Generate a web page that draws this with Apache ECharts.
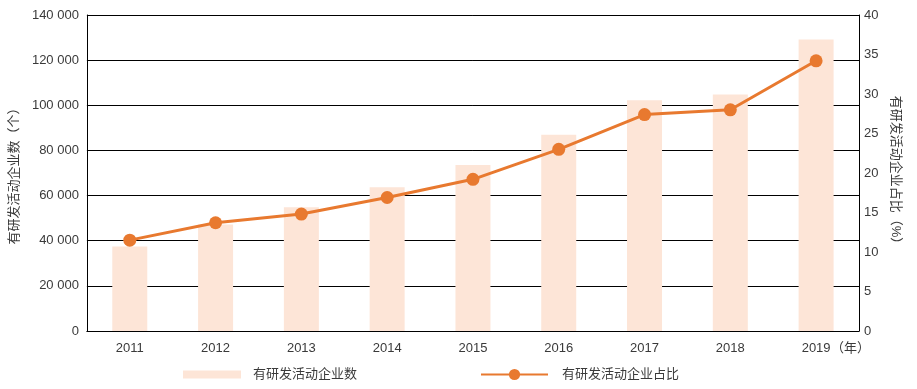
<!DOCTYPE html>
<html><head><meta charset="utf-8">
<script src="https://cdn.jsdelivr.net/npm/echarts@6/dist/echarts.min.js"></script>
<style>html,body{margin:0;padding:0;background:#fff}#c{width:917px;height:389px}</style>
</head><body><div id="c"></div>
<script>
const years = ['2011','2012','2013','2014','2015','2016','2017','2018','2019'];
const enterpriseCount = [37467, 47204, 54832, 63676, 73570, 86891, 102218, 104820, 129198];
const enterpriseShare = [11.5, 13.7, 14.8, 16.9, 19.2, 23.0, 27.4, 28.0, 34.2];
const leftTicks = {min: 0, max: 140000, interval: 20000};
const rightTicks = {min: 0, max: 40, interval: 5};
const barName = '有研发活动企业数';
const lineName = '有研发活动企业占比';

const font = '"Liberation Sans", "Noto Sans CJK SC", sans-serif';
const txt = '#3a3a3a';
const chart = echarts.init(document.getElementById('c'));
chart.setOption({
  animation: false,
  textStyle: {fontFamily: font},
  grid: {left: 86, right: 58, top: 15, bottom: 58},
  legend: [
    {data: [barName], left: 178, top: 363, itemWidth: 58, itemHeight: 8, icon: 'rect',
     textStyle: {fontSize: 13, color: txt, fontFamily: font, padding: [0,0,0,7]}},
    {data: [lineName], left: 475, top: 363, itemWidth: 67, itemHeight: 14,
     textStyle: {fontSize: 13, color: txt, fontFamily: font, padding: [0,0,0,9]}}
  ],
  xAxis: {
    type: 'category', data: years,
    name: '（年）', nameLocation: 'end', nameGap: -28, nameMoveOverlap: false,
    nameTextStyle: {fontSize: 13, color: txt, fontFamily: font, align: 'left',
                    verticalAlign: 'top', lineHeight: 34},
    axisLine: {lineStyle: {color: '#000', width: 1}},
    axisTick: {show: false},
    axisLabel: {fontSize: 13, color: txt, margin: 11}
  },
  yAxis: [
    {type: 'value', min: leftTicks.min, max: leftTicks.max, interval: leftTicks.interval,
     name: '有研发活动企业数（个）', nameLocation: 'middle', nameGap: 58, nameRotate: 90,
     nameTextStyle: {fontSize: 13, color: txt, fontFamily: font},
     axisLine: {show: true, lineStyle: {color: '#000'}}, axisTick: {show: false},
     splitLine: {lineStyle: {color: '#000', width: 1}},
     axisLabel: {fontSize: 13, color: txt, margin: 8,
       formatter: v => String(v).replace(/\B(?=(\d{3})+(?!\d))/g, ' ')}},
    {type: 'value', min: rightTicks.min, max: rightTicks.max, interval: rightTicks.interval,
     name: '有研发活动企业占比（%）', nameLocation: 'middle', nameGap: 25, nameRotate: -90,
     nameTextStyle: {fontSize: 13, color: txt, fontFamily: font},
     axisLine: {show: true, lineStyle: {color: '#000'}}, axisTick: {show: false},
     splitLine: {show: false},
     axisLabel: {fontSize: 13, color: txt, margin: 5}}
  ],
  series: [
    {name: barName, type: 'bar', data: enterpriseCount, barWidth: 35,
     itemStyle: {color: '#FDE5D7'}},
    {name: lineName, type: 'line', yAxisIndex: 1, data: enterpriseShare,
     symbol: 'circle', symbolSize: 13,
     lineStyle: {color: '#E8792F', width: 3}, itemStyle: {color: '#E8792F'}}
  ]
});
</script></body></html>
